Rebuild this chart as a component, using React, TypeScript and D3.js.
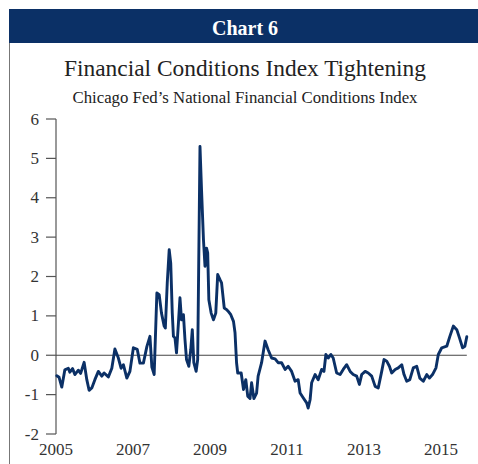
import React from 'react';
import * as d3 from 'd3';

// 芝加哥联储 NFCI
const years = [
  2005.02, 2005.08, 2005.15, 2005.23, 2005.32, 2005.36, 2005.43, 2005.49, 2005.58, 2005.64,
  2005.73, 2005.80, 2005.86, 2005.93, 2006.01, 2006.10, 2006.19, 2006.25, 2006.36, 2006.45,
  2006.53, 2006.62, 2006.69, 2006.75, 2006.84, 2006.92, 2007.01, 2007.11, 2007.18, 2007.27,
  2007.36, 2007.44, 2007.49, 2007.55, 2007.62, 2007.68, 2007.74, 2007.81, 2007.84, 2007.89,
  2007.94, 2007.98, 2008.02, 2008.05, 2008.09, 2008.13, 2008.18, 2008.22, 2008.26, 2008.31,
  2008.35, 2008.39, 2008.45, 2008.50, 2008.54, 2008.58, 2008.64, 2008.68, 2008.74, 2008.78,
  2008.83, 2008.87, 2008.91, 2008.94, 2008.97, 2009.03, 2009.09, 2009.15, 2009.20, 2009.26,
  2009.30, 2009.37, 2009.43, 2009.47, 2009.54, 2009.61, 2009.65, 2009.69, 2009.72, 2009.81,
  2009.87, 2009.93, 2009.98, 2010.04, 2010.08, 2010.14, 2010.21, 2010.25, 2010.34, 2010.43,
  2010.51, 2010.60, 2010.69, 2010.77, 2010.86, 2010.95, 2011.03, 2011.12, 2011.21, 2011.29,
  2011.34, 2011.42, 2011.51, 2011.55, 2011.60, 2011.64, 2011.73, 2011.81, 2011.90, 2011.96,
  2012.01, 2012.07, 2012.14, 2012.20, 2012.29, 2012.38, 2012.46, 2012.55, 2012.64, 2012.72,
  2012.81, 2012.88, 2012.94, 2013.03, 2013.11, 2013.20, 2013.29, 2013.37, 2013.46, 2013.52,
  2013.59, 2013.66, 2013.72, 2013.81, 2013.89, 2013.98, 2014.04, 2014.11, 2014.19, 2014.28,
  2014.37, 2014.45, 2014.54, 2014.63, 2014.70, 2014.78, 2014.87, 2014.93, 2015.02, 2015.15,
  2015.23, 2015.32, 2015.41, 2015.48, 2015.56, 2015.62, 2015.67,
];
const nfci = [
  -0.52, -0.56, -0.81, -0.37, -0.33, -0.43, -0.34, -0.49, -0.38, -0.46,
  -0.18, -0.62, -0.89, -0.83, -0.62, -0.41, -0.53, -0.45, -0.55, -0.33,
  0.16, -0.07, -0.33, -0.24, -0.58, -0.41, 0.19, 0.15, -0.2, -0.2,
  0.22, 0.48, -0.3, -0.49, 1.58, 1.54, 1.07, 0.74, 0.69, 1.84,
  2.68, 2.34, 1.07, 0.48, 0.44, 0.06, 0.82, 1.46, 0.9, 1.03,
  0.4, -0.11, -0.28, 0.14, 0.65, -0.19, -0.41, -0.11, 5.3, 4.2,
  2.94, 2.26, 2.72, 2.6, 1.41, 1.07, 0.9, 1.07, 2.05, 1.92,
  1.84, 1.2, 1.16, 1.12, 1.03, 0.86, 0.57, -0.19, -0.45, -0.45,
  -0.87, -0.62, -1.04, -1.1, -0.7, -1.1, -0.96, -0.53, -0.19, 0.36,
  0.14, -0.07, -0.09, -0.19, -0.19, -0.36, -0.28, -0.41, -0.66, -0.62,
  -0.96, -1.08, -1.21, -1.34, -1.13, -0.7, -0.49, -0.62, -0.36, -0.41,
  0.02, -0.07, 0.02, -0.07, -0.45, -0.49, -0.36, -0.24, -0.41, -0.49,
  -0.53, -0.74, -0.49, -0.41, -0.45, -0.53, -0.79, -0.83, -0.41, -0.11,
  -0.15, -0.28, -0.45, -0.36, -0.32, -0.24, -0.49, -0.66, -0.62, -0.32,
  -0.28, -0.58, -0.66, -0.49, -0.58, -0.49, -0.32, 0.02, 0.19, 0.23,
  0.48, 0.74, 0.65, 0.44, 0.19, 0.23, 0.47,
];
const yTicks = [-2, -1, 0, 1, 2, 3, 4, 5, 6];
const xTickYears = [2005, 2007, 2009, 2011, 2013, 2015];

const W = 478;
const H = 464;
const navy = '#0b3066';
const font = '"Liberation Serif", "Times New Roman", serif';

export default function App() {
  const x = d3.scaleLinear().domain([2005, 2015]).range([56, 441]);
  const y = d3.scaleLinear().domain([-2, 6]).range([434, 119]);

  const pts = years.map((yr, i) => [yr, nfci[i]] as [number, number]);
  const line = d3.line<[number, number]>()
    .x(d => x(d[0]))
    .y(d => y(d[1]));

  const x0 = x(2005);
  const x1 = x(years[years.length - 1]);

  return (
    <svg width={W} height={H} style={{position: 'absolute', top: 0, left: 0}} fontFamily={font}>
      <rect x={0} y={0} width={W} height={H} fill="#fff" />
      {/* 标题栏 */}
      <rect x={9} y={9} width={W - 9} height={34} fill={navy} />
      <text x={245} y={35} textAnchor="middle" fill="#fff" fontSize={20} fontWeight="bold">Chart 6</text>
      <line x1={9.5} y1={43} x2={9.5} y2={H} stroke="#777" strokeWidth={1} />

      <text x={245} y={76} textAnchor="middle" fill="#222" fontSize={23}
        textLength={362} lengthAdjust="spacingAndGlyphs">Financial Conditions Index Tightening</text>
      <text x={245} y={103} textAnchor="middle" fill="#222" fontSize={16}
        textLength={345} lengthAdjust="spacingAndGlyphs">Chicago Fed’s National Financial Conditions Index</text>

      {/* y 轴 */}
      <line x1={56} y1={y(6)} x2={56} y2={y(-2)} stroke="#555" strokeWidth={1.2} />
      {yTicks.map(t => (
        <g key={t}>
          <line x1={46} y1={y(t)} x2={56} y2={y(t)} stroke="#555" strokeWidth={1.2} />
          <text x={39} y={y(t) + 5.5} textAnchor="end" fill="#333" fontSize={17}>{t < 0 ? '-' + Math.abs(t) : t}</text>
        </g>
      ))}

      {/* x 轴标签 */}
      {xTickYears.map(t => (
        <text key={t} x={x(t)} y={455} textAnchor="middle" fill="#333" fontSize={17}>{t}</text>
      ))}

      {/* 零线 */}
      <line x1={x0} y1={y(0)} x2={x1} y2={y(0)} stroke="#444" strokeWidth={1.2} />

      <path d={line(pts) || ''} fill="none" stroke={navy} strokeWidth={2.9}
        strokeLinejoin="round" strokeLinecap="round" />
    </svg>
  );
}
